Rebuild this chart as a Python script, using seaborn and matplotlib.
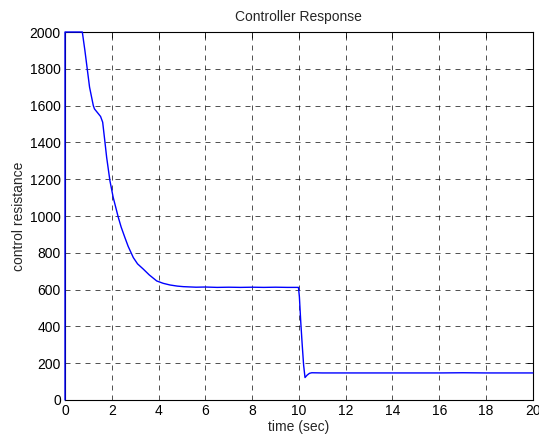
import numpy as np
import pandas as pd
import matplotlib
matplotlib.use("Agg")
import matplotlib.pyplot as plt
import seaborn as sns

# values (the start sits at the top of the axes)
time_sec = [0.0, 0.0, 0.74, 0.85, 0.95, 1.05, 1.21, 1.26, 1.40, 1.52, 1.61, 1.70,
            1.78, 1.92, 2.06, 2.28, 2.4, 2.56, 2.7, 2.92, 3.1, 3.35, 3.6, 3.92, 4.2, 4.49,
            4.8, 5.06, 5.6, 6.0, 6.5, 7.0, 7.5, 8.0, 8.5, 9.0, 9.5, 9.98, 10.02, 10.08,
            10.14, 10.2, 10.26, 10.35, 10.45, 10.55, 11.0, 12.0, 13.0, 14.0, 15.0, 16.0,
            17.0, 18.0, 19.0, 20.0]
resistance = [0, 2000, 2000, 1900, 1800, 1700, 1600, 1582, 1560, 1541, 1510, 1410,
              1319, 1192, 1101, 992, 940, 883, 835, 774, 740, 711, 680, 647, 634, 625,
              619, 616, 613, 614, 612, 613, 612, 613, 612, 613, 612, 612, 560, 420,
              300, 190, 122, 135, 145, 148, 147, 147, 147, 147, 147, 147,
              148, 147, 147, 147]

df = pd.DataFrame({"t": time_sec, "r": resistance})

sns.set_style("white")
plt.rcParams["font.family"] = ["Liberation Sans", "DejaVu Sans"]

fig = plt.figure(figsize=(5.39, 4.41), dpi=100)
ax = fig.add_axes([0.1206, 0.093, 0.868, 0.8344])

sns.lineplot(data=df, x="t", y="r", sort=False, estimator=None,
             color="#0000ff", linewidth=1.0, ax=ax, zorder=3, clip_on=False)

ax.set_xlim(0, 20)
ax.set_ylim(0, 2000)
ax.set_xticks(np.arange(0, 21, 2))
ax.set_yticks(np.arange(0, 2001, 200))
ax.grid(True, color="black", linestyle=(0, (6, 6)), linewidth=0.6, alpha=0.8)
ax.tick_params(direction="in", top=True, right=True, length=4, width=0.6,
               labelsize=10, colors="black", pad=3)
for s in ax.spines.values():
    s.set_color("black")
    s.set_linewidth(0.8)

ax.set_title("Controller Response", fontsize=10, pad=8)
ax.set_xlabel("time (sec)", fontsize=10, labelpad=1)
ax.set_ylabel("control resistance", fontsize=10, labelpad=3)

fig.savefig("out.png", dpi=100)
